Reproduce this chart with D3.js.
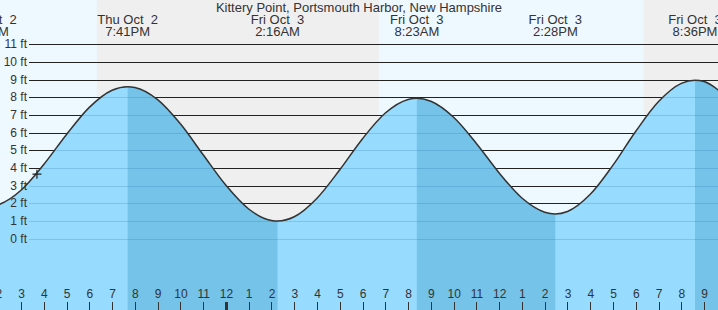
<!DOCTYPE html>
<html>
<head>
<meta charset="utf-8">
<script src="https://cdn.jsdelivr.net/npm/d3@7"></script>
<style>
  body { margin: 0; padding: 0; background: #fff; }
  svg { display: block; font-family: "Liberation Sans", Arial, sans-serif; }
</style>
</head>
<body>
<div id="chart"></div>
<script>
// Tide data (feet, times local)
var title = "Kittery Point, Portsmouth Harbor, New Hampshire";

// hourly heights starting Thu Oct 2 13:00
var hourlyStart = "2025-10-02 13:00";
var hourlyHeights = [1.90, 1.92, 2.74, 4.20, 5.90, 7.43, 8.40, 8.56, 7.87, 6.50,
                     4.75, 3.02, 1.68, 1.03, 1.24, 2.29, 3.90, 5.66, 7.11, 7.88,
                     7.78, 6.87, 5.39, 3.72, 2.30, 1.50, 1.54, 2.51, 4.16, 6.08,
                     7.76, 8.79, 8.89, 8.01];

// highs and lows
var extremeTimes = ["2025-10-02 13:29", "2025-10-02 19:41", "2025-10-03 02:16",
                    "2025-10-03 08:23", "2025-10-03 14:28", "2025-10-03 20:36"];
var extremeHeights = [1.8, 8.6, 1.0, 7.95, 1.4, 8.97];
var extremeDays = ["Thu Oct  2", "Thu Oct  2", "Fri Oct  3", "Fri Oct  3", "Fri Oct  3", "Fri Oct  3"];
var extremeLabels = ["1:29PM", "7:41PM", "2:16AM", "8:23AM", "2:28PM", "8:36PM"];

// sunset / sunrise
var nightStarts = ["2025-10-02 18:20", "2025-10-03 18:21"];
var nightEnds = ["2025-10-03 06:43", "2025-10-04 06:40"];

// current time marker
var nowTime = "2025-10-02 15:42";
var nowHeight = 3.65;

var feetTicks = [0, 1, 2, 3, 4, 5, 6, 7, 8, 9, 10, 11];

function drawChart() {
    var svgWidth = 718;
    var svgHeight = 310;

    var parseTime = d3.timeParse("%Y-%m-%d %H:%M");

    var svg = d3.select("#chart")
        .append("svg")
        .attr("width", svgWidth)
        .attr("height", svgHeight);

    // scales
    var xScale = d3.scaleTime()
        .domain([parseTime("2025-10-02 15:00"), parseTime("2025-10-03 21:00")])
        .range([21, 704.1]);

    var yScale = d3.scaleLinear()
        .domain([0, 11])
        .range([238.7, 44.3]);

    // build the curve points
    var hours = d3.timeHour.range(parseTime(hourlyStart),
        d3.timeHour.offset(parseTime(hourlyStart), hourlyHeights.length));
    var points = hours.map(function(t, i) {
        return { t: t, h: hourlyHeights[i] };
    });
    extremeTimes.forEach(function(s, i) {
        points.push({ t: parseTime(s), h: extremeHeights[i] });
    });
    points.sort(function(a, b) { return a.t - b.t; });

    // day / night background
    svg.append("rect")
        .attr("width", svgWidth)
        .attr("height", svgHeight)
        .attr("fill", "#eef8ff");

    svg.selectAll(".night")
        .data(nightStarts)
        .enter()
        .append("rect")
        .attr("class", "night")
        .attr("x", function(d) { return xScale(parseTime(d)); })
        .attr("width", function(d, i) { return xScale(parseTime(nightEnds[i])) - xScale(parseTime(d)); })
        .attr("y", 0)
        .attr("height", svgHeight)
        .attr("fill", "#efefef");

    // grid lines above the water
    svg.selectAll(".grid")
        .data(feetTicks)
        .enter()
        .append("line")
        .attr("class", "grid")
        .attr("x1", 29)
        .attr("x2", svgWidth)
        .attr("y1", function(d) { return Math.round(yScale(d)) + 0.5; })
        .attr("y2", function(d) { return Math.round(yScale(d)) + 0.5; })
        .attr("stroke", "#222")
        .attr("stroke-width", 1);

    // water
    var area = d3.area()
        .x(function(d) { return xScale(d.t); })
        .y0(svgHeight)
        .y1(function(d) { return yScale(d.h); })
        .curve(d3.curveMonotoneX);

    var line = d3.line()
        .x(function(d) { return xScale(d.t); })
        .y(function(d) { return yScale(d.h); })
        .curve(d3.curveMonotoneX);

    svg.append("clipPath")
        .attr("id", "water")
        .append("path")
        .attr("d", area(points));

    svg.append("path")
        .attr("d", area(points))
        .attr("fill", "#97dcff");

    // falling tide, high -> low, darker
    var water = svg.append("g").attr("clip-path", "url(#water)");
    var falls = [];
    for (var i = 0; i < extremeTimes.length; i++) {
        if (extremeHeights[i] > 4) {
            var end = i + 1 < extremeTimes.length ? parseTime(extremeTimes[i + 1]) : d3.timeHour.offset(parseTime(extremeTimes[i]), 7);
            falls.push([parseTime(extremeTimes[i]), end]);
        }
    }
    water.selectAll(".fall")
        .data(falls)
        .enter()
        .append("rect")
        .attr("class", "fall")
        .attr("x", function(d) { return xScale(d[0]); })
        .attr("width", function(d) { return xScale(d[1]) - xScale(d[0]); })
        .attr("y", 0)
        .attr("height", svgHeight)
        .attr("fill", "#75c3e8");

    water.selectAll(".wgrid")
        .data(feetTicks)
        .enter()
        .append("line")
        .attr("class", "wgrid")
        .attr("x1", 29)
        .attr("x2", svgWidth)
        .attr("y1", function(d) { return Math.round(yScale(d)) + 0.5; })
        .attr("y2", function(d) { return Math.round(yScale(d)) + 0.5; })
        .attr("stroke", "rgba(30,110,170,0.22)")
        .attr("stroke-width", 1);

    svg.append("path")
        .attr("d", line(points))
        .attr("fill", "none")
        .attr("stroke", "#333")
        .attr("stroke-width", 1.5);

    // y labels
    svg.selectAll(".ylab")
        .data(feetTicks)
        .enter()
        .append("text")
        .attr("class", "ylab")
        .attr("x", 27)
        .attr("y", function(d) { return yScale(d) + 4; })
        .attr("text-anchor", "end")
        .attr("font-size", "12px")
        .attr("fill", "#333")
        .text(function(d) { return d + " ft"; });

    // hour axis along the bottom
    var hourTicks = d3.timeHour.range(parseTime("2025-10-02 14:00"), parseTime("2025-10-03 23:00"));
    var bottomAxis = d3.axisBottom(xScale)
        .tickValues(hourTicks)
        .tickFormat(d3.timeFormat("%-I"))
        .tickSize(0)
        .tickPadding(0);

    var axisG = svg.append("g")
        .attr("transform", "translate(0, 289)")
        .call(bottomAxis);
    axisG.select(".domain").remove();
    axisG.selectAll("text")
        .attr("font-size", "12px")
        .attr("font-family", "Liberation Sans, Arial, sans-serif")
        .attr("fill", "#333");

    svg.selectAll(".htick")
        .data(hourTicks)
        .enter()
        .append("line")
        .attr("class", "htick")
        .attr("x1", function(d) { return Math.round(xScale(d)) + 0.5; })
        .attr("x2", function(d) { return Math.round(xScale(d)) + 0.5; })
        .attr("y1", 302)
        .attr("y2", svgHeight)
        .attr("stroke", "#333")
        .attr("stroke-width", function(d) { return d.getHours() === 0 ? 3 : 1; });

    // now marker
    var nx = xScale(parseTime(nowTime));
    var ny = yScale(nowHeight);
    svg.append("path")
        .attr("d", "M" + (nx - 4.5) + "," + ny + "H" + (nx + 4.5) + "M" + nx + "," + (ny - 4.5) + "V" + (ny + 4.5))
        .attr("stroke", "#222")
        .attr("stroke-width", 1.2);

    // title and high/low labels
    svg.append("text")
        .attr("x", svgWidth / 2)
        .attr("y", 12)
        .attr("text-anchor", "middle")
        .attr("font-size", "13px")
        .attr("fill", "#333")
        .text(title);

    var labels = svg.selectAll(".hl")
        .data(extremeTimes)
        .enter()
        .append("g")
        .attr("class", "hl")
        .attr("transform", function(d) { return "translate(" + xScale(parseTime(d)) + ",0)"; });

    labels.append("text")
        .attr("y", 24)
        .attr("text-anchor", "middle")
        .attr("font-size", "13px")
        .attr("fill", "#333")
        .attr("xml:space", "preserve")
        .style("white-space", "pre")
        .text(function(d, i) { return extremeDays[i]; });

    labels.append("text")
        .attr("y", 36)
        .attr("text-anchor", "middle")
        .attr("font-size", "13px")
        .attr("fill", "#333")
        .text(function(d, i) { return extremeLabels[i]; });
}

drawChart();
</script>
</body>
</html>
